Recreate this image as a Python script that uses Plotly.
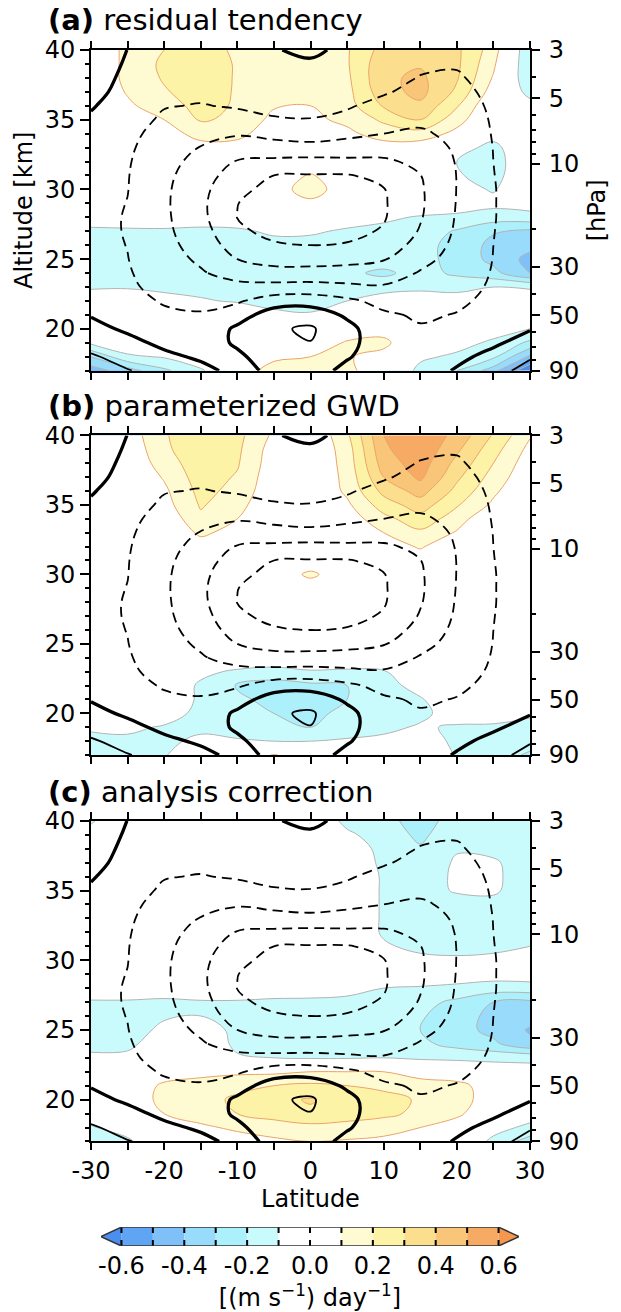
import math
import plotly.graph_objects as go

# ---------------- data ----------------
LAT = [-30, -25, -20, -15, -10, -5, 0, 5, 10, 15, 20, 25, 30]
ALT = list(range(17, 41))  # km

# zonal-mean zonal wind [m/s] (black contours, identical in all panels), rows = ALT
WIND = [
    [7.0, 5.2, 3.5, 1.5, -1.5, 1.0, 2.0, -1.2, -2.0, -2.6, 0.5, 3.5, 6.5],
    [5.5, 3.5, 1.2, -0.8, -0.9, 2.6, 3.5, 0.4, -2.5, -3.2, -1.2, 1.5, 4.6],
    [3.5, 1.5, -1.2, -2.5, 0.7, 3.9, 4.9, 1.5, -2.9, -3.8, -2.6, -0.8, 2.0],
    [1.5, -0.8, -2.8, -3.6, 0.9, 4.4, 5.6, 1.5, -3.4, -4.6, -3.8, -2.2, -0.3],
    [-0.3, -2.5, -4.2, -4.6, -2.2, 2.5, 3.0, -0.8, -4.3, -5.6, -4.8, -3.2, -1.8],
    [-2.0, -3.5, -5.4, -6.2, -5.6, -2.5, -2.2, -4.0, -6.5, -6.8, -5.8, -3.9, -2.6],
    [-3.0, -4.2, -6.5, -8.0, -8.5, -8.5, -8.2, -9.0, -9.5, -8.2, -6.7, -4.4, -3.1],
    [-3.5, -4.6, -7.3, -9.5, -12.0, -13.0, -13.2, -12.8, -12.5, -9.6, -7.5, -4.7, -3.4],
    [-3.5, -4.9, -8.0, -10.8, -15.0, -17.0, -17.0, -16.6, -15.3, -11.5, -8.2, -4.9, -3.6],
    [-3.5, -5.1, -8.5, -12.0, -17.3, -19.4, -20.0, -19.6, -17.8, -13.2, -8.8, -5.0, -3.7],
    [-3.5, -5.3, -8.9, -13.0, -19.0, -21.5, -22.0, -21.5, -19.5, -14.6, -9.3, -5.05, -3.8],
    [-3.5, -5.3, -9.1, -13.7, -20.1, -22.5, -23.2, -22.5, -20.4, -15.4, -9.6, -5.1, -3.8],
    [-3.5, -5.1, -9.2, -13.9, -19.9, -22.5, -23.3, -22.6, -20.5, -15.7, -9.8, -5.1, -3.8],
    [-3.5, -4.9, -9.1, -13.6, -18.8, -21.5, -22.4, -21.8, -20.2, -15.6, -9.9, -5.1, -3.8],
    [-3.5, -4.8, -8.8, -12.8, -17.3, -20.0, -20.3, -20.3, -18.8, -15.1, -9.9, -5.05, -3.7],
    [-3.5, -4.6, -8.3, -11.6, -15.3, -16.0, -16.5, -16.2, -15.7, -14.0, -9.7, -5.0, -3.6],
    [-3.0, -4.3, -7.5, -10.2, -12.5, -12.0, -11.5, -11.8, -13.0, -12.5, -9.3, -4.9, -3.5],
    [-2.0, -3.9, -6.6, -8.3, -9.5, -8.5, -7.8, -9.0, -10.0, -10.7, -8.8, -4.7, -3.3],
    [-0.8, -3.4, -5.6, -6.6, -6.5, -5.2, -5.1, -6.0, -8.0, -9.0, -8.1, -4.5, -3.1],
    [0.5, -2.9, -4.8, -5.2, -4.6, -4.4, -4.2, -4.6, -6.2, -7.5, -7.3, -4.2, -2.9],
    [2.0, -2.2, -4.0, -4.1, -3.8, -3.3, -3.2, -3.8, -4.6, -6.2, -6.4, -3.8, -2.7],
    [3.0, -1.5, -3.2, -3.3, -3.0, -2.2, -2.2, -2.8, -3.6, -5.2, -5.5, -3.4, -2.5],
    [4.0, -0.8, -2.5, -2.6, -2.2, -1.2, -0.7, -2.0, -2.8, -4.2, -4.6, -3.0, -2.3],
    [5.0, -0.1, -1.8, -2.0, -1.5, -0.3, 1.0, -1.2, -2.2, -3.5, -3.8, -2.5, -2.1],
]

# (a) residual tendency [(m/s)/day], rows = ALT
RESID = [
    [-0.45, -0.35, -0.22, -0.12, 0.05, 0.14, 0.15, 0.13, 0.02, -0.13, -0.20, -0.35, -0.75],
    [-0.30, -0.12, -0.09, 0.00, 0.06, 0.08, 0.10, 0.11, 0.06, -0.08, -0.12, -0.18, -0.42],
    [-0.08, -0.02, 0.00, 0.00, 0.02, 0.02, 0.04, 0.11, 0.13, -0.02, -0.06, -0.12, -0.22],
    [0.00, 0.00, 0.00, 0.00, 0.00, 0.00, -0.02, 0.04, 0.05, 0.00, 0.00, -0.05, -0.10],
    [0.00, 0.00, 0.00, 0.00, -0.02, -0.08, -0.09, -0.02, 0.00, 0.00, 0.05, 0.00, 0.00],
    [-0.05, -0.03, -0.07, -0.09, -0.11, -0.13, -0.14, -0.10, -0.05, -0.05, -0.07, -0.06, -0.05],
    [-0.11, -0.11, -0.12, -0.13, -0.14, -0.15, -0.16, -0.15, -0.14, -0.12, -0.12, -0.10, -0.11],
    [-0.15, -0.14, -0.14, -0.15, -0.16, -0.16, -0.17, -0.18, -0.22, -0.16, -0.22, -0.27, -0.40],
    [-0.15, -0.15, -0.15, -0.16, -0.16, -0.16, -0.17, -0.16, -0.15, -0.17, -0.23, -0.33, -0.43],
    [-0.14, -0.14, -0.14, -0.15, -0.15, -0.14, -0.15, -0.14, -0.14, -0.17, -0.23, -0.33, -0.37],
    [-0.12, -0.12, -0.12, -0.13, -0.12, -0.08, -0.08, -0.12, -0.13, -0.15, -0.21, -0.29, -0.32],
    [-0.05, -0.03, -0.02, -0.03, -0.03, 0.00, 0.00, -0.03, -0.08, -0.11, -0.12, -0.15, -0.14],
    [0.00, 0.00, 0.00, 0.00, 0.00, 0.04, 0.08, 0.03, 0.00, -0.02, -0.05, -0.07, -0.05],
    [0.00, 0.00, 0.00, 0.00, 0.00, 0.06, 0.14, 0.05, 0.00, 0.00, -0.06, -0.11, 0.00],
    [0.00, 0.00, 0.00, 0.00, 0.00, 0.04, 0.11, 0.03, 0.00, 0.00, -0.09, -0.14, 0.00],
    [0.00, 0.00, 0.00, 0.00, 0.00, 0.00, 0.02, 0.00, 0.00, 0.00, -0.10, -0.15, 0.00],
    [0.00, 0.00, 0.00, 0.06, 0.06, 0.02, 0.02, 0.04, 0.06, 0.04, -0.06, -0.13, 0.00],
    [0.00, 0.00, 0.05, 0.14, 0.13, 0.04, 0.05, 0.08, 0.14, 0.16, 0.07, -0.06, 0.00],
    [0.00, 0.02, 0.10, 0.21, 0.18, 0.07, 0.08, 0.12, 0.22, 0.30, 0.14, -0.01, -0.02],
    [0.00, 0.08, 0.16, 0.23, 0.19, 0.11, 0.10, 0.16, 0.31, 0.38, 0.21, 0.00, -0.06],
    [0.00, 0.11, 0.19, 0.25, 0.19, 0.14, 0.12, 0.17, 0.36, 0.43, 0.28, 0.05, -0.14],
    [0.00, 0.13, 0.21, 0.26, 0.19, 0.16, 0.14, 0.18, 0.38, 0.42, 0.31, 0.09, -0.19],
    [0.00, 0.13, 0.22, 0.26, 0.19, 0.15, 0.15, 0.19, 0.37, 0.39, 0.32, 0.12, -0.20],
    [0.00, 0.13, 0.20, 0.25, 0.18, 0.15, 0.15, 0.19, 0.34, 0.36, 0.32, 0.15, -0.20],
]

# (b) parameterized GWD [(m/s)/day], rows = ALT
GWD = [
    [-0.15, -0.12, -0.11, 0.00, 0.00, 0.11, 0.02, 0.00, 0.00, 0.00, -0.11, -0.14, -0.22],
    [-0.14, -0.12, -0.12, -0.08, -0.09, -0.10, -0.10, -0.09, -0.08, -0.05, -0.12, -0.13, -0.15],
    [-0.08, -0.08, -0.11, -0.12, -0.14, -0.17, -0.20, -0.14, -0.12, -0.09, -0.11, -0.11, -0.12],
    [-0.02, -0.02, -0.05, -0.13, -0.16, -0.20, -0.23, -0.17, -0.13, -0.12, -0.06, -0.07, -0.09],
    [0.00, 0.00, -0.01, -0.12, -0.18, -0.23, -0.25, -0.20, -0.14, -0.11, -0.02, -0.02, -0.03],
    [0.00, 0.00, 0.00, -0.12, -0.21, -0.24, -0.22, -0.20, -0.14, -0.06, 0.00, 0.00, 0.00],
    [0.00, 0.00, 0.00, -0.07, -0.12, -0.14, -0.11, -0.12, -0.11, -0.02, 0.00, 0.00, 0.00],
    [0.00, 0.00, 0.00, 0.00, 0.00, -0.02, -0.02, -0.01, 0.00, 0.00, 0.00, 0.00, 0.00],
    [0.00, 0.00, 0.00, 0.00, 0.00, 0.00, 0.00, 0.00, 0.00, 0.00, 0.00, 0.00, 0.00],
    [0.00, 0.00, 0.00, 0.00, 0.00, 0.00, 0.00, 0.00, 0.00, 0.00, 0.00, 0.00, 0.00],
    [0.00, 0.00, 0.00, 0.00, 0.00, 0.00, 0.00, 0.00, 0.00, 0.00, 0.00, 0.00, 0.00],
    [0.00, 0.00, 0.00, 0.00, 0.00, 0.00, 0.00, 0.00, 0.00, 0.00, 0.00, 0.00, 0.00],
    [0.00, 0.00, 0.00, 0.00, 0.00, 0.00, 0.02, 0.00, 0.00, 0.00, 0.00, 0.00, 0.00],
    [0.00, 0.00, 0.00, 0.00, 0.00, 0.00, 0.13, 0.00, 0.00, 0.00, 0.00, 0.00, 0.00],
    [0.00, 0.00, 0.00, 0.00, 0.00, 0.00, 0.00, 0.00, 0.00, 0.05, 0.00, 0.00, 0.00],
    [0.00, 0.00, 0.00, 0.05, 0.00, 0.00, 0.00, 0.00, 0.05, 0.11, 0.03, 0.00, 0.00],
    [0.00, 0.00, 0.00, 0.12, 0.06, 0.00, 0.00, 0.02, 0.10, 0.18, 0.09, 0.00, 0.00],
    [0.00, 0.00, 0.02, 0.18, 0.10, 0.00, 0.00, 0.04, 0.17, 0.26, 0.15, 0.00, 0.00],
    [0.00, 0.00, 0.06, 0.21, 0.14, 0.00, 0.00, 0.08, 0.25, 0.35, 0.21, 0.08, 0.00],
    [0.00, 0.00, 0.08, 0.23, 0.17, 0.02, 0.00, 0.12, 0.33, 0.44, 0.27, 0.12, 0.00],
    [0.00, 0.00, 0.11, 0.25, 0.19, 0.03, 0.00, 0.13, 0.40, 0.52, 0.32, 0.16, 0.02],
    [0.00, 0.01, 0.15, 0.26, 0.21, 0.04, 0.00, 0.14, 0.45, 0.55, 0.37, 0.20, 0.04],
    [0.00, 0.02, 0.18, 0.27, 0.22, 0.05, 0.00, 0.15, 0.48, 0.58, 0.42, 0.24, 0.07],
    [0.00, 0.04, 0.19, 0.27, 0.23, 0.08, 0.00, 0.18, 0.50, 0.58, 0.47, 0.29, 0.11],
]

# (c) analysis correction [(m/s)/day], rows = ALT
CORR = [
    [-0.15, -0.12, 0.00, 0.00, 0.05, 0.08, 0.10, 0.09, 0.07, 0.02, -0.02, -0.12, -0.25],
    [-0.11, -0.05, 0.05, 0.08, 0.12, 0.15, 0.17, 0.16, 0.15, 0.10, 0.05, -0.07, -0.12],
    [-0.05, 0.00, 0.10, 0.15, 0.20, 0.24, 0.28, 0.25, 0.22, 0.18, 0.12, 0.02, -0.06],
    [0.00, 0.03, 0.13, 0.16, 0.22, 0.27, 0.31, 0.25, 0.23, 0.19, 0.14, 0.05, -0.02],
    [0.00, 0.02, 0.12, 0.14, 0.17, 0.20, 0.22, 0.20, 0.18, 0.15, 0.13, 0.05, 0.00],
    [-0.04, -0.03, 0.04, 0.07, 0.08, 0.08, 0.10, 0.10, 0.10, 0.05, 0.03, -0.03, -0.05],
    [-0.08, -0.08, -0.02, 0.00, -0.09, -0.10, -0.11, -0.11, -0.10, -0.12, -0.13, -0.13, -0.13],
    [-0.13, -0.12, -0.05, -0.03, -0.12, -0.13, -0.14, -0.14, -0.15, -0.18, -0.23, -0.28, -0.38],
    [-0.14, -0.14, -0.08, -0.06, -0.12, -0.14, -0.15, -0.15, -0.16, -0.20, -0.26, -0.33, -0.41],
    [-0.14, -0.13, -0.11, -0.10, -0.12, -0.13, -0.14, -0.15, -0.15, -0.19, -0.25, -0.33, -0.36],
    [-0.11, -0.11, -0.12, -0.11, -0.11, -0.12, -0.12, -0.13, -0.14, -0.17, -0.22, -0.30, -0.32],
    [-0.04, -0.04, -0.04, -0.03, -0.03, -0.04, -0.05, -0.06, -0.10, -0.11, -0.13, -0.15, -0.14],
    [0.00, 0.00, 0.00, 0.00, 0.00, 0.00, 0.00, 0.00, -0.03, -0.03, -0.03, -0.05, -0.05],
    [0.00, 0.00, 0.00, 0.00, 0.00, 0.00, 0.00, 0.00, -0.06, -0.08, -0.09, -0.09, -0.08],
    [0.00, 0.00, 0.00, 0.00, 0.00, 0.00, 0.00, -0.03, -0.09, -0.12, -0.12, -0.11, -0.10],
    [0.00, 0.00, 0.00, 0.00, 0.00, 0.00, 0.00, -0.03, -0.11, -0.13, -0.13, -0.12, -0.11],
    [0.00, 0.00, 0.00, 0.00, 0.00, 0.00, 0.00, -0.03, -0.11, -0.13, -0.13, -0.12, -0.12],
    [0.00, 0.00, 0.00, 0.00, 0.00, 0.00, 0.00, -0.03, -0.11, -0.12, -0.12, -0.11, -0.12],
    [0.00, 0.00, 0.00, 0.00, 0.00, 0.00, 0.00, -0.03, -0.11, -0.12, -0.095, -0.095, -0.12],
    [0.00, 0.00, 0.00, 0.00, 0.00, 0.00, 0.00, -0.03, -0.11, -0.13, -0.090, -0.093, -0.12],
    [0.00, 0.00, 0.00, 0.00, 0.00, 0.00, 0.00, -0.03, -0.12, -0.14, -0.092, -0.095, -0.12],
    [0.00, 0.00, 0.00, 0.00, 0.00, 0.00, 0.00, -0.04, -0.13, -0.19, -0.105, -0.11, -0.13],
    [-0.07, 0.00, 0.00, 0.00, 0.00, 0.00, 0.00, -0.08, -0.15, -0.22, -0.14, -0.12, -0.14],
    [-0.11, -0.02, 0.00, 0.00, 0.00, 0.00, 0.00, -0.13, -0.17, -0.24, -0.16, -0.13, -0.15],
]

FIELDS = [RESID, GWD, CORR]
PANEL_TAGS = ["(a)", "(b)", "(c)"]
PANEL_NAMES = ["residual tendency", "parameterized GWD", "analysis correction"]

LEVELS = [-0.6, -0.5, -0.4, -0.3, -0.2, -0.1, 0.0, 0.1, 0.2, 0.3, 0.4, 0.5, 0.6]
BAND_COLORS = ["#4a8ef0", "#60a5f4", "#7ec0f7", "#98dbfa", "#acf0fc", "#cafbfc",
               "#ffffff", "#ffffff", "#fefbd2", "#fdf3a6", "#fbdf8e", "#f9c679",
               "#f6aa63", "#f5974f"]
WIND_NEG_LEVELS = [-20, -15, -10, -5]
WIND_POS_LEVELS = [5]

LAT_MAJOR = [-30, -20, -10, 0, 10, 20, 30]
LAT_LABELS = ["-30", "-20", "-10", "0", "10", "20", "30"]
LAT_MINOR = [-25, -15, -5, 5, 15, 25]
ALT_TICKS = [20, 25, 30, 35, 40]
ALT_MINOR = [a for a in range(17, 41) if a not in ALT_TICKS]
P_TICKS = [3, 5, 10, 30, 50, 90]
P_MINOR = [4, 6, 7, 8, 9, 20, 40, 60, 70, 80]
CB_TICKS = [-0.6, -0.4, -0.2, 0.0, 0.2, 0.4, 0.6]
CB_LABELS = ["-0.6", "-0.4", "-0.2", "0.0", "0.2", "0.4", "0.6"]

# ---------------- figure ----------------
W, H = 621, 1312
ML, MR, MT, MB = 91, 91, 50, 52
PH = H - MT - MB


def py(px):  # pixel row -> paper y
    return (H - MB - px) / PH


def px_x(px):  # pixel column -> paper x
    return (px - ML) / (W - ML - MR)


PANEL_PX = [(50, 372), (437, 758), (824, 1146)]
TITLE_PX = [20, 407, 795]
FONT = "DejaVu Sans"
TICK_FS = 24

nb = len(LEVELS)  # 13 levels -> 14 bands
fill_scale = [[k / nb, c] for k, c in enumerate(BAND_COLORS)]
step = LEVELS[1] - LEVELS[0]

fig = go.Figure()
layout = dict(
    width=W, height=H, margin=dict(l=ML, r=MR, t=MT, b=MB),
    paper_bgcolor="white", plot_bgcolor="white", showlegend=False,
    font=dict(family=FONT, size=TICK_FS, color="black"),
)
annotations = []

for i, field in enumerate(FIELDS):
    n = i + 1
    xa = "x" if n == 1 else f"x{n}"
    ya = "y" if n == 1 else f"y{n}"
    yr = f"y{n + 3}"
    common = dict(x=LAT, y=ALT, xaxis=xa, yaxis=ya, showscale=False, hoverinfo="skip")
    fig.add_trace(go.Contour(z=field, colorscale=fill_scale,
                             contours=dict(start=LEVELS[0], end=LEVELS[-1], size=step,
                                           coloring="fill", showlines=False),
                             line=dict(width=0, smoothing=1.1), **common))
    fig.add_trace(go.Contour(z=field,
                             contours=dict(start=LEVELS[0], end=-0.1, size=step, coloring="none"),
                             line=dict(color="#b3b3b3", width=1, smoothing=1.1), **common))
    fig.add_trace(go.Contour(z=field,
                             contours=dict(start=0.1, end=LEVELS[-1], size=step, coloring="none"),
                             line=dict(color="#eaa468", width=1, smoothing=1.1), **common))
    # wind contours
    fig.add_trace(go.Contour(z=WIND,
                             contours=dict(start=min(WIND_NEG_LEVELS), end=max(WIND_NEG_LEVELS),
                                           size=5, coloring="none"),
                             line=dict(color="black", width=1.8, dash="10px,6px", smoothing=1.1), **common))
    fig.add_trace(go.Contour(z=WIND,
                             contours=dict(start=0, end=0, size=5, coloring="none"),
                             line=dict(color="black", width=3.3, smoothing=1.1), **common))
    fig.add_trace(go.Contour(z=WIND,
                             contours=dict(start=min(WIND_POS_LEVELS), end=max(WIND_POS_LEVELS),
                                           size=5, coloring="none"),
                             line=dict(color="black", width=1.8, smoothing=1.1), **common))
    # anchor trace for the pressure axis
    fig.add_trace(go.Scatter(x=[0], y=[10], xaxis=xa, yaxis=yr, mode="markers",
                             marker=dict(opacity=0), hoverinfo="skip"))

    y0, y1 = PANEL_PX[i]
    dom = [py(y1), py(y0)]
    last = (n == 3)
    xax = dict(
        domain=[0, 1], anchor=ya, range=[-30, 30], tickmode="array",
        tickvals=LAT_MAJOR, ticktext=LAT_LABELS, showticklabels=last,
        ticks="outside", ticklen=7, tickwidth=2, tickcolor="black",
        minor=dict(tickmode="array", tickvals=LAT_MINOR, ticks="outside", ticklen=7,
                   tickwidth=2, tickcolor="black"),
        showline=True, linewidth=2, linecolor="black", mirror="ticks",
        showgrid=False, zeroline=False, tickfont=dict(size=TICK_FS),
    )
    if last:
        xax["title"] = dict(text="Latitude", standoff=4, font=dict(size=TICK_FS))
    layout["xaxis" if n == 1 else f"xaxis{n}"] = xax
    yax = dict(
        domain=dom, anchor=xa, range=[17, 40], tickmode="array",
        tickvals=ALT_TICKS, ticktext=[str(v) for v in ALT_TICKS],
        ticks="outside", ticklen=9, tickwidth=2, tickcolor="black",
        minor=dict(tickmode="array", tickvals=ALT_MINOR, ticks="outside", ticklen=4,
                   tickwidth=1.5, tickcolor="black"),
        showline=True, linewidth=2, linecolor="black", mirror=False,
        showgrid=False, zeroline=False, tickfont=dict(size=TICK_FS),
    )
    if n == 1:
        yax["title"] = dict(text="Altitude [km]", standoff=5, font=dict(size=TICK_FS))
    layout["yaxis" if n == 1 else f"yaxis{n}"] = yax
    yrax = dict(
        overlaying=ya, anchor=xa, side="right", type="log",
        range=[math.log10(90), math.log10(3)], tickmode="array",
        tickvals=P_TICKS, ticktext=[str(v) for v in P_TICKS],
        ticks="outside", ticklen=8, tickwidth=2, tickcolor="black",
        ticklabelstandoff=4,
        minor=dict(tickmode="array", tickvals=P_MINOR, ticks="outside", ticklen=4,
                   tickwidth=1.5, tickcolor="black"),
        showline=True, linewidth=2, linecolor="black",
        showgrid=False, zeroline=False, tickfont=dict(size=TICK_FS),
    )
    if n == 1:
        yrax["title"] = dict(text="[hPa]", standoff=10, font=dict(size=TICK_FS))
    layout[f"yaxis{n + 3}"] = yrax
    annotations.append(dict(
        x=px_x(46), y=py(TITLE_PX[i]), xref="paper", yref="paper",
        xanchor="left", yanchor="middle", showarrow=False,
        text=f"<b>{PANEL_TAGS[i]}</b> {PANEL_NAMES[i]}", font=dict(size=29, family=FONT),
    ))

# ---------------- colour bar (own axis) ----------------
ext = 0.065
mids = [(LEVELS[k] + LEVELS[k + 1]) / 2 for k in range(len(LEVELS) - 1)]
fig.add_trace(go.Bar(x=mids, y=[1] * len(mids), base=0, width=step,
                     marker=dict(color=BAND_COLORS[1:-1], line=dict(width=0)),
                     xaxis="x4", yaxis="y7", hoverinfo="skip"))
lo, hi = LEVELS[0], LEVELS[-1]
fig.add_trace(go.Scatter(x=[lo, lo - ext, lo, lo], y=[0, 0.5, 1, 0], fill="toself",
                         fillcolor=BAND_COLORS[0], mode="lines", line=dict(width=0),
                         xaxis="x4", yaxis="y7", hoverinfo="skip"))
fig.add_trace(go.Scatter(x=[hi, hi + ext, hi, hi], y=[0, 0.5, 1, 0], fill="toself",
                         fillcolor=BAND_COLORS[-1], mode="lines", line=dict(width=0),
                         xaxis="x4", yaxis="y7", hoverinfo="skip"))
# dividers
dx, dy = [], []
for lv in LEVELS:
    dx += [lv, lv, None]
    dy += [0, 1, None]
fig.add_trace(go.Scatter(x=dx, y=dy, mode="lines", line=dict(color="black", width=2, dash="6px,7px"),
                         xaxis="x4", yaxis="y7", hoverinfo="skip"))
fig.add_trace(go.Scatter(x=[lo, lo - ext, lo, hi, hi + ext, hi, lo],
                         y=[0, 0.5, 1, 1, 0.5, 0, 0], mode="lines",
                         line=dict(color="#333333", width=1.5),
                         xaxis="x4", yaxis="y7", hoverinfo="skip"))

cb_l, cb_r = 101, 519
layout["xaxis4"] = dict(
    domain=[px_x(cb_l), px_x(cb_r)], anchor="y7", range=[lo - ext, hi + ext],
    tickmode="array", tickvals=CB_TICKS, ticktext=CB_LABELS, ticks="",
    ticklabelstandoff=3,
    showline=False, showgrid=False, zeroline=False, tickfont=dict(size=TICK_FS),
    title=dict(text="[(m s<sup>\u22121</sup>) day<sup>\u22121</sup>]", standoff=3,
               font=dict(size=TICK_FS)),
)
layout["yaxis7"] = dict(domain=[py(1251), py(1232)], anchor="x4", range=[0, 1],
                        showticklabels=False, ticks="", showline=False, showgrid=False,
                        zeroline=False)
layout["annotations"] = annotations
fig.update_layout(**layout)
fig.write_html("out.html")
